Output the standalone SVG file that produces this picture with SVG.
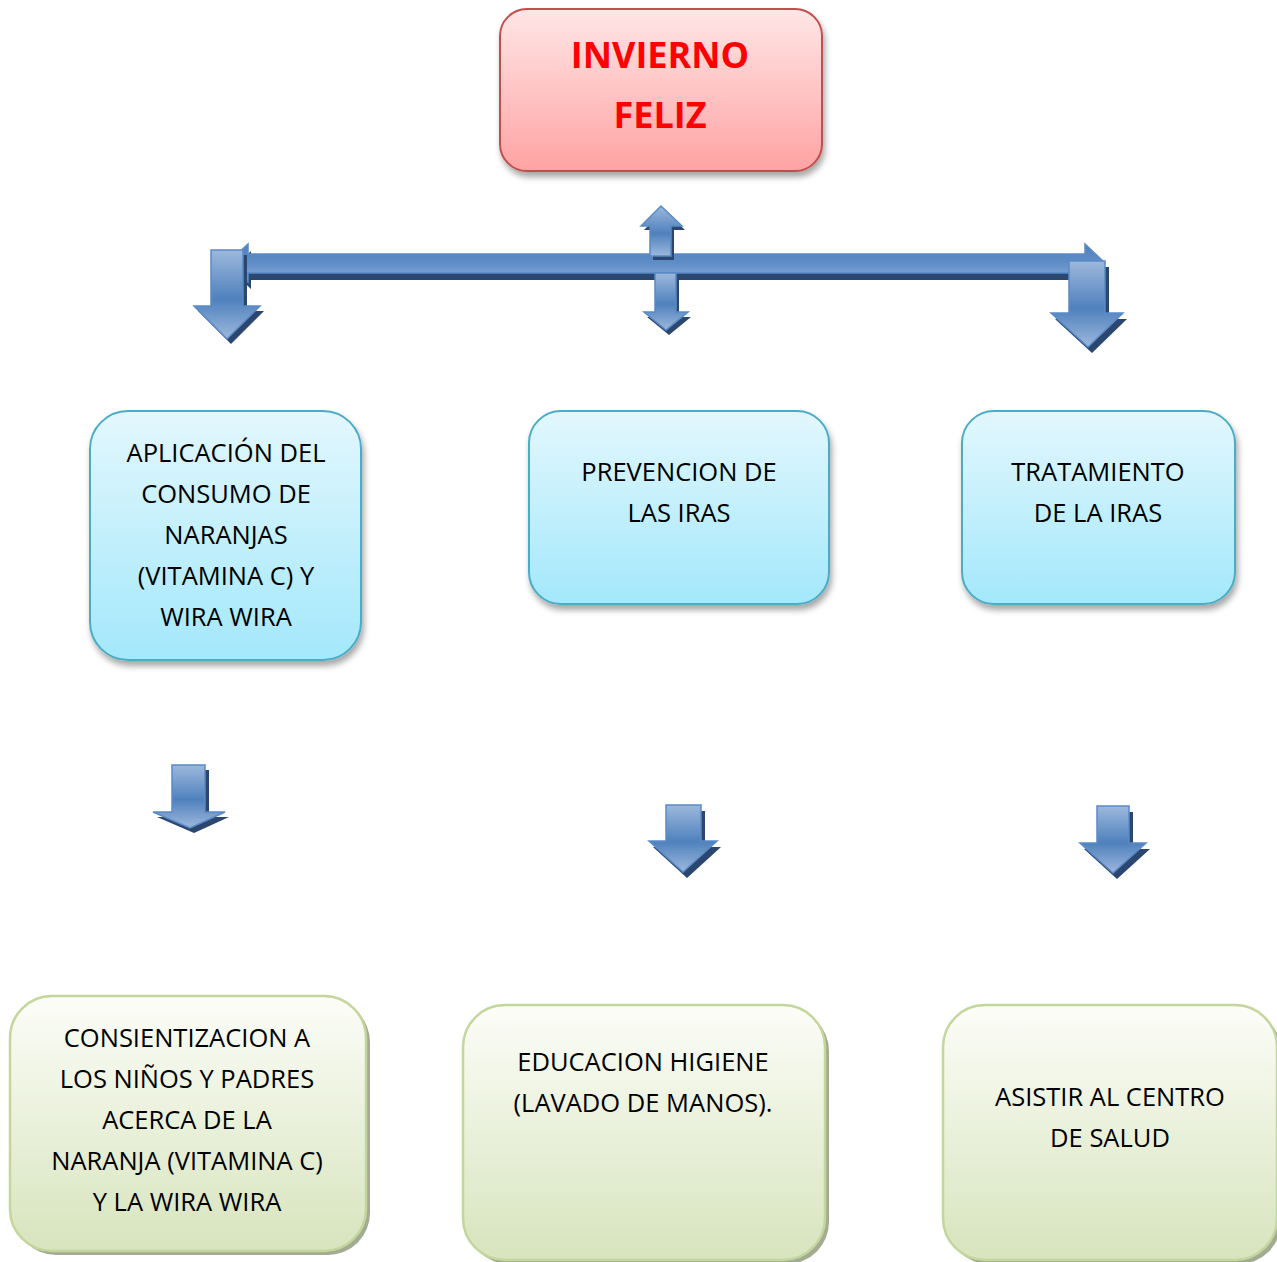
<svg xmlns="http://www.w3.org/2000/svg" width="1277" height="1262" viewBox="0 0 1277 1262">
<defs>
<linearGradient id="gRed" x1="0" y1="0" x2="0" y2="1"><stop offset="0" stop-color="#FFE6E6"/><stop offset="1" stop-color="#FFA3A3"/></linearGradient>
<linearGradient id="gBlue" x1="0" y1="0" x2="0" y2="1"><stop offset="0" stop-color="#E3F7FD"/><stop offset="1" stop-color="#A3E8FB"/></linearGradient>
<linearGradient id="gGreen" x1="0" y1="0" x2="0" y2="1"><stop offset="0" stop-color="#FCFDF8"/><stop offset="1" stop-color="#D7E4BD"/></linearGradient>
<linearGradient id="gArrow" x1="0" y1="0" x2="0" y2="1"><stop offset="0" stop-color="#9DB8DC"/><stop offset="0.55" stop-color="#4F81BD"/><stop offset="1" stop-color="#9DB8DC"/></linearGradient>
<linearGradient id="gBar" x1="0" y1="0" x2="0" y2="1"><stop offset="0" stop-color="#4F81BD"/><stop offset="0.5" stop-color="#5F8DC6"/><stop offset="1" stop-color="#8EADD8"/></linearGradient>
<filter id="sh" x="-10%" y="-10%" width="125%" height="130%"><feDropShadow dx="2" dy="5" stdDeviation="3" flood-color="#000" flood-opacity="0.35"/></filter>
</defs>
<style>
.red{fill:url(#gRed);stroke:#C0504D;stroke-width:2}
.blue{fill:url(#gBlue);stroke:#4BACC6;stroke-width:2}
.green{fill:url(#gGreen);stroke:#C3D69B;stroke-width:2.5}
.gsh{fill:#A3AB92}
.arr{fill:url(#gArrow);stroke:#5A8AC6;stroke-width:1.5}
.bar{fill:url(#gBar);stroke:#5A8AC6;stroke-width:1.5}
.ash{fill:#2B4770}
.t{font-family:"Open Sans","Liberation Sans",sans-serif;font-size:25.5px;fill:#000;text-anchor:middle}
.title{font-family:"Open Sans","Liberation Sans",sans-serif;font-size:36px;font-weight:bold;fill:#FF0000;text-anchor:middle}
</style>

<g id="connectors">
  <path class="ash" transform="translate(3,7)" d="M228,263 L248,244 V254 H1085 V244 L1105,263 L1085,282 V273 H248 V282 Z"/>
  <path class="bar" d="M228,263 L248,244 V254 H1085 V244 L1105,263 L1085,282 V273 H248 V282 Z"/>
  <path class="ash" transform="translate(4,5)" d="M211,250 H243 V306 H260 L227,339 L194,306 H211 Z"/>
  <path class="arr" d="M211,250 H243 V306 H260 L227,339 L194,306 H211 Z"/>
  <path class="ash" transform="translate(3,4)" d="M650,256 V226 H641 L661,206 L682,226 H671 V256 Z"/>
  <path class="arr" d="M650,256 V226 H641 L661,206 L682,226 H671 V256 Z"/>
  <path class="ash" transform="translate(3,5)" d="M655,273 V312 H644 L666,330 L688,312 H676 V273 Z"/>
  <path class="arr" d="M655,273 V312 H644 L666,330 L688,312 H676 V273 Z"/>
  <path class="ash" transform="translate(4,6)" d="M1069,261 H1105 V313 H1123 L1088,347 L1051,313 H1069 Z"/>
  <path class="arr" d="M1069,261 H1105 V313 H1123 L1088,347 L1051,313 H1069 Z"/>
  <path class="ash" transform="translate(4,5)" d="M172,765 H205 V812 H225 L190,828 L153,812 H172 Z"/>
  <path class="arr" d="M172,765 H205 V812 H225 L190,828 L153,812 H172 Z"/>
  <path class="ash" transform="translate(4,6)" d="M666,805 H701 V841 H717 L683,872 L649,841 H666 Z"/>
  <path class="arr" d="M666,805 H701 V841 H717 L683,872 L649,841 H666 Z"/>
  <path class="ash" transform="translate(4,6)" d="M1097,806 H1129 V843 H1146 L1113,873 L1080,843 H1097 Z"/>
  <path class="arr" d="M1097,806 H1129 V843 H1146 L1113,873 L1080,843 H1097 Z"/>
</g>

<g id="node-invierno">
  <rect class="red" x="500" y="9" width="322" height="162" rx="27" filter="url(#sh)"/>
  <text class="title" x="660" y="68">INVIERNO</text>
  <text class="title" x="660" y="128">FELIZ</text>
</g>

<g id="node-aplicacion">
  <rect class="blue" x="90" y="411" width="271" height="249" rx="38" filter="url(#sh)"/>
  <text class="t" x="226" y="462">APLICACIÓN DEL</text>
  <text class="t" x="226" y="503">CONSUMO DE</text>
  <text class="t" x="226" y="544">NARANJAS</text>
  <text class="t" x="226" y="585">(VITAMINA C) Y</text>
  <text class="t" x="226" y="626">WIRA WIRA</text>
</g>

<g id="node-prevencion">
  <rect class="blue" x="529" y="411" width="300" height="193" rx="32" filter="url(#sh)"/>
  <text class="t" x="679" y="481">PREVENCION DE</text>
  <text class="t" x="679" y="522">LAS IRAS</text>
</g>

<g id="node-tratamiento">
  <rect class="blue" x="962" y="411" width="273" height="193" rx="32" filter="url(#sh)"/>
  <text class="t" x="1098" y="481">TRATAMIENTO</text>
  <text class="t" x="1098" y="522">DE LA IRAS</text>
</g>

<g id="node-consientizacion">
  <rect class="gsh" x="14" y="1000" width="356" height="255" rx="42"/>
  <rect class="green" x="10" y="996" width="356" height="255" rx="42"/>
  <text class="t" x="187" y="1047">CONSIENTIZACION A</text>
  <text class="t" x="187" y="1088">LOS NIÑOS Y PADRES</text>
  <text class="t" x="187" y="1129">ACERCA DE LA</text>
  <text class="t" x="187" y="1170">NARANJA (VITAMINA C)</text>
  <text class="t" x="187" y="1211">Y LA WIRA WIRA</text>
</g>

<g id="node-educacion">
  <rect class="gsh" x="467" y="1009" width="362" height="255" rx="42"/>
  <rect class="green" x="463" y="1005" width="362" height="255" rx="42"/>
  <text class="t" x="643" y="1071">EDUCACION HIGIENE</text>
  <text class="t" x="643" y="1112">(LAVADO DE MANOS).</text>
</g>

<g id="node-asistir">
  <rect class="gsh" x="947" y="1009" width="334" height="255" rx="42"/>
  <rect class="green" x="943" y="1005" width="334" height="255" rx="42"/>
  <text class="t" x="1110" y="1106">ASISTIR AL CENTRO</text>
  <text class="t" x="1110" y="1147">DE SALUD</text>
</g>
</svg>
